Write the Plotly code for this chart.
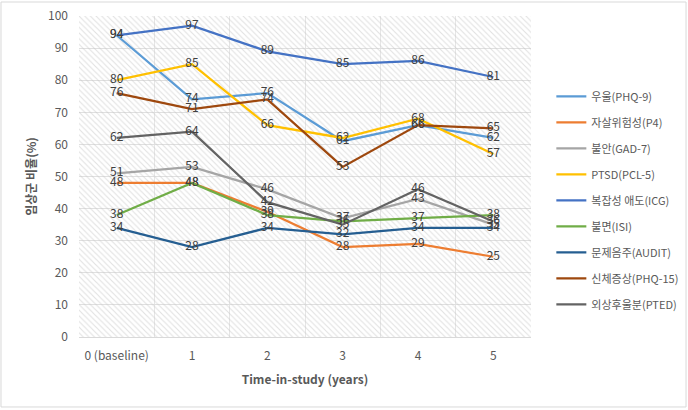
import plotly.graph_objects as go

categories = ["0 (baseline)", "1", "2", "3", "4", "5"]
x_pos = [0, 1, 2, 3, 4, 5]

series_names = ["우울(PHQ-9)", "자살위험성(P4)", "불안(GAD-7)", "PTSD(PCL-5)", "복잡성 애도(ICG)",
                "불면(ISI)", "문제음주(AUDIT)", "신체증상(PHQ-15)", "외상후울분(PTED)"]
phq9 = [94, 74, 76, 61, 66, 62]
p4 = [48, 48, 39, 28, 29, 25]
gad7 = [51, 53, 46, 37, 43, 35]
pcl5 = [80, 85, 66, 62, 68, 57]
icg = [94, 97, 89, 85, 86, 81]
isi = [38, 48, 38, 36, 37, 38]
audit = [34, 28, 34, 32, 34, 34]
phq15 = [76, 71, 74, 53, 66, 65]
pted = [62, 64, 42, 35, 46, 36]
series_values = [phq9, p4, gad7, pcl5, icg, isi, audit, phq15, pted]
colors = ["#5B9BD5", "#ED7D31", "#A5A5A5", "#FFC000", "#4472C4",
          "#70AD47", "#255E91", "#9E480E", "#636363"]

FONT = "Noto Sans CJK KR"
fig = go.Figure()

# hatched plot-area background
fig.add_trace(go.Scatter(
    x=[-0.5, 5.5, 5.5, -0.5, -0.5], y=[0, 0, 100, 100, 0],
    mode="lines", line=dict(width=0), fill="toself",
    fillcolor="rgba(0,0,0,0)",
    fillpattern=dict(shape="\\", fgcolor="#c4c4c4", bgcolor="rgba(0,0,0,0)", size=4, solidity=0.28),
    showlegend=False, hoverinfo="skip"))

for i, (name, vals, c) in enumerate(zip(series_names, series_values, colors)):
    fig.add_trace(go.Scatter(
        x=x_pos, y=vals, name=name, mode="lines+text",
        line=dict(color=c, width=2.25),
        text=[str(v) for v in vals], textposition="middle center",
        textfont=dict(family=FONT, size=12, color="#404040"),
        legendgroup=f"g{i}"))

fig.update_layout(
    width=688, height=410,
    margin=dict(l=79, r=157, t=16, b=73, autoexpand=False),
    paper_bgcolor="white", plot_bgcolor="white",
    font=dict(family=FONT, color="#595959", size=12),
    showlegend=True,
    legend=dict(x=1.045, y=0.795, xanchor="left", yanchor="top",
                font=dict(family=FONT, size=11, color="#595959"),
                tracegroupgap=7, bgcolor="rgba(0,0,0,0)", itemwidth=30),
    xaxis=dict(range=[-0.5, 5.5], tickmode="array", tickvals=x_pos, ticktext=categories,
               showgrid=False, zeroline=False, showline=True, linecolor="#d9d9d9", linewidth=1,
               ticks="", ticklabelstandoff=8, tickfont=dict(size=12, color="#595959"), automargin=False,
               minor=dict(tick0=0.5, dtick=1, showgrid=True, gridcolor="#e6e6e6", gridwidth=1),
               title=dict(text="<b>Time-in-study (years)</b>", font=dict(size=12, color="#595959"), standoff=13)),
    yaxis=dict(range=[0, 100], dtick=10, showgrid=True, gridcolor="#e0e0e0", zeroline=False,
               ticks="", ticklabelstandoff=10, tickfont=dict(size=12, color="#595959"), automargin=False,
               title=dict(text="<b>임상군 비율(%)</b>", font=dict(size=12, color="#595959"), standoff=8)),
    shapes=[dict(type="rect", xref="paper", yref="paper",
                 x0=-0.1726, x1=1.343, y0=-0.218, y1=1.0436,
                 line=dict(color="#d9d9d9", width=1), fillcolor="rgba(0,0,0,0)", layer="below")],
)

fig.write_html("out.html", config={"displayModeBar": False},
               post_script="document.body.style.margin='0px';document.body.style.overflow='hidden';")
